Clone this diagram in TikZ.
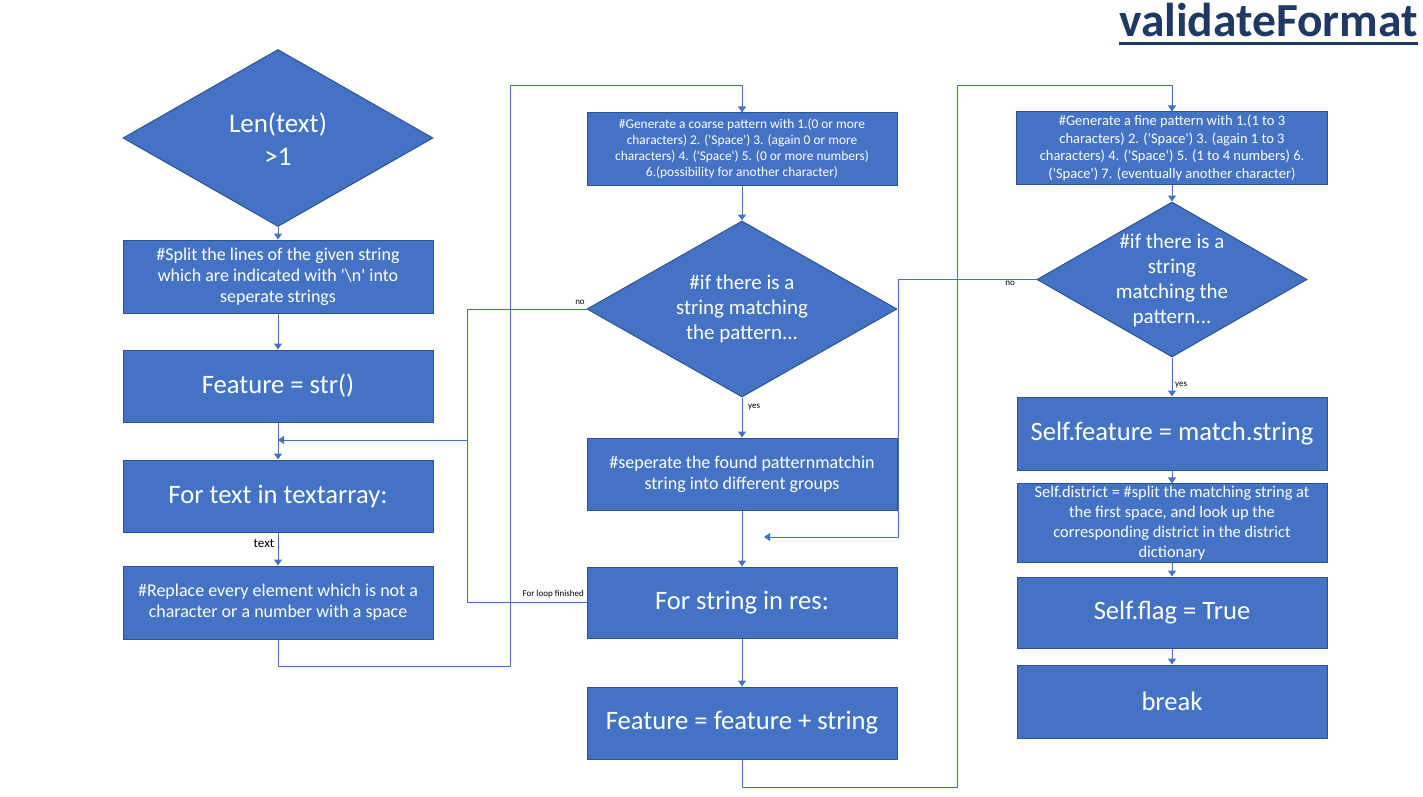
\documentclass[tikz,border=0pt]{standalone}
\usepackage{fontspec}
\setmainfont{Carlito}
\usetikzlibrary{arrows.meta,shapes.geometric}
\definecolor{boxfill}{HTML}{4472C4}
\definecolor{boxline}{HTML}{2F528F}
\definecolor{lineblue}{HTML}{4472C4}
\definecolor{navy}{HTML}{1F3864}
\newcommand{\sq}{\textquotesingle}
\begin{document}
\begin{tikzpicture}[x=1pt,y=-1pt,
  box/.style={draw=boxline, fill=boxfill, line width=1pt, text=white, align=center, minimum width=310pt, inner sep=2pt},
  dia/.style={diamond, draw=boxline, fill=boxfill, line width=1pt, inner sep=0pt},
  dtext/.style={text=white, align=center, inner sep=0pt},
  conn/.style={draw=lineblue, line width=1pt},
  arr/.style={conn, -{Triangle[width=8pt,length=6pt]}},
  lbl/.style={font=\fontsize{9}{10}\selectfont, text=black, inner sep=0pt},
  big/.style={font=\fontsize{26.6}{32}\selectfont}
]
\useasboundingbox (0,0) rectangle (1423,797);

% title
\node[font=\fontsize{47.5}{50}\selectfont\bfseries, text=navy, inner sep=0pt, anchor=base east] (title) at (1418,37) {validateFormat};
\draw[navy, line width=3pt] ([yshift=-7pt]title.base west) -- ([yshift=-7pt]title.base east);

% left column
\node[dia, minimum width=310pt, minimum height=177pt] (d1) at (278,138) {};
\node[dtext, font=\fontsize{27}{33}\selectfont] (d1t) at (278,139) {Len(text)\\>1};
\node[box, minimum height=73pt, font=\fontsize{18}{21}\selectfont] (split) at (278,276.5) {\#Split the lines of the given string\\which are indicated with \sq\textbackslash n\sq{} into\\seperate strings};
\node[box, minimum height=72pt, big] (feat) at (278,386) {Feature = str()};
\node[box, minimum height=72pt, big] (fortext) at (278,496) {For text in textarray:};
\node[box, minimum height=73pt, font=\fontsize{18}{21}\selectfont] (replace) at (278,602.5) {\#Replace every element which is not a\\character or a number with a space};

% middle column
\node[box, minimum height=72pt, font=\fontsize{13.4}{16}\selectfont] (coarse) at (742,149) {\#Generate a coarse pattern with 1.(0 or more\\characters) 2. (\sq Space\sq) 3. (again 0 or more\\characters) 4. (\sq Space\sq) 5. (0 or more numbers)\\6.(possibility for another character)};
\node[dia, minimum width=310pt, minimum height=176pt] (d2) at (742,309) {};
\node[dtext, font=\fontsize{21}{25}\selectfont] (d2t) at (742,309) {\#if there is a\\string matching\\the pattern...};
\node[box, minimum height=72pt, font=\fontsize{18}{21}\selectfont] (sep) at (742,474) {\#seperate the found patternmatchin\\string into different groups};
\node[box, minimum height=71pt, big] (forstr) at (742,602.5) {For string in res:};
\node[box, minimum height=72pt, big] (featstr) at (742,723) {Feature = feature + string};

% right column
\node[box, minimum width=311pt, minimum height=72pt, font=\fontsize{14.5}{17.7}\selectfont] (fine) at (1172,148) {\#Generate a fine pattern with 1.(1 to 3\\characters) 2. (\sq Space\sq) 3. (again 1 to 3\\characters) 4. (\sq Space\sq) 5. (1 to 4 numbers) 6.\\(\sq Space\sq) 7. (eventually another character)};
\node[dia, minimum width=270pt, minimum height=155pt] (d3) at (1172,279.5) {};
\node[dtext, font=\fontsize{21}{25}\selectfont] (d3t) at (1172,280) {\#if there is a\\string\\matching the\\pattern...};
\node[box, minimum height=73pt, big] (selffeat) at (1172,433.5) {Self.feature = match.string};
\node[box, minimum height=72pt, font=\fontsize{16.4}{20}\selectfont] (district) at (1172,523) {Self.district = \#split the matching string at\\the first space, and look up the\\corresponding district in the district\\dictionary};
\node[box, minimum height=71pt, big] (flag) at (1172,612.5) {Self.flag = True};
\node[box, minimum height=73pt, big] (brk) at (1172,701.5) {break};

% helper coordinates
\coordinate (j1) at (278,440);
\coordinate (c1) at (467,440);
\coordinate (r1) at (510,666);
\coordinate (r2) at (510,86);
\coordinate (f1) at (957,787);
\coordinate (f2) at (957,86);
\coordinate (n1) at (898,279.5);
\coordinate (n2) at (898,537);
\coordinate (n3) at (764,537);

% left column connectors
\draw[arr] (d1.south) -- (split.north);
\draw[arr] (split.south) -- (feat.north);
\draw[arr] (feat.south) -- (fortext.north);
\draw[arr] (fortext.south) -- (replace.north);
\node[font=\fontsize{13}{15}\selectfont, inner sep=0pt] (textlbl) at (264,543) {text};
\draw[arr] (replace.south) |- (r1) -- (r2) -| (coarse.north);

% middle column connectors
\draw[arr] (coarse.south) -- (d2.north);
\draw[arr] (d2.west) -| (c1) -- (j1);
\node[lbl] (nolbl1) at (580,302) {no};
\draw[conn] (forstr.west) -| (c1);
\node[lbl, anchor=east] (forlbl) at (584,594) {For loop finished};
\draw[arr] (d2.south) -- (sep.north);
\node[lbl, anchor=west] (yeslbl1) at (748,407) {yes};
\draw[arr] (sep.south) -- (forstr.north);
\draw[arr] (forstr.south) -- (featstr.north);
\draw[arr] (featstr.south) |- (f1) -- (f2) -| (fine.north);

% right column connectors
\draw[arr] (fine.south) -- (d3.north);
\draw[arr] (d3.west) -- (n1) -- (n2) -- (n3);
\node[lbl] (nolbl2) at (1010,283) {no};
\draw[arr] (d3.south) -- (selffeat.north);
\node[lbl, anchor=west] (yeslbl2) at (1175,385) {yes};
\draw[arr] (selffeat.south) -- (district.north);
\draw[arr] (district.south) -- (flag.north);
\draw[arr] (flag.south) -- (brk.north);
\end{tikzpicture}
\end{document}
